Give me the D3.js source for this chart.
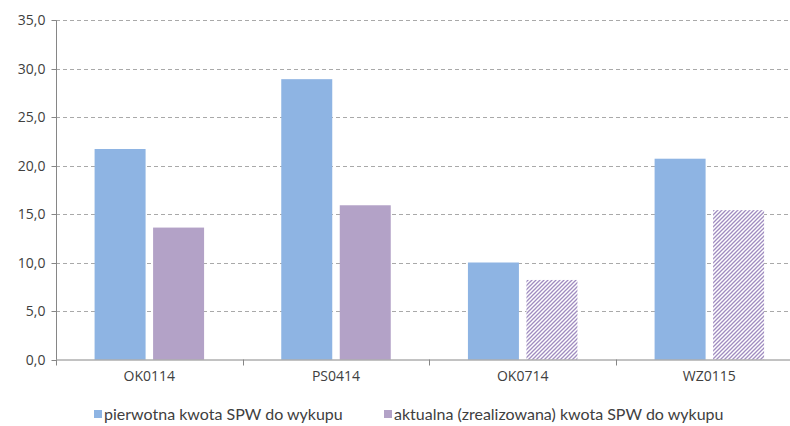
<!DOCTYPE html>
<html>
<head>
<meta charset="utf-8">
<script src="https://cdn.jsdelivr.net/npm/d3@7/dist/d3.min.js"></script>
<style>
  html, body { margin: 0; padding: 0; background: #fff; }
  svg { display: block; }
  text { font-family: "Open Sans", "Noto Sans", sans-serif; fill: #404040; }
  .legend text { font-family: Lato, "Open Sans", sans-serif; }
</style>
</head>
<body>
<svg id="chart" width="790" height="426"></svg>
<script>
// Bond series and amounts (mld zł)
const categories = ["OK0114", "PS0414", "OK0714", "WZ0115"];
const seriesNames = ["pierwotna kwota SPW do wykupu", "aktualna (zrealizowana) kwota SPW do wykupu"];
const original = [21.7, 28.9, 10.0, 20.7];
const current = [13.6, 15.9, 8.2, 15.4];
// the last two "current" amounts are drawn hatched
const hatched = [false, false, true, true];
const yTicks = [0, 5, 10, 15, 20, 25, 30, 35];

const colors = ["#8eb4e3", "#b3a2c7"];

const svg = d3.select("#chart");
const plotLeft = 56, plotTop = 20, plotBottom = 359.5;
const bandW = 186.67;
const plotRight = plotLeft + bandW * categories.length;

const defs = svg.append("defs");
const pat = defs.append("pattern")
  .attr("id", "hatch")
  .attr("patternUnits", "userSpaceOnUse")
  .attr("width", 4).attr("height", 4);
pat.append("rect").attr("width", 4).attr("height", 4).attr("fill", "#fff");
pat.append("path")
  .attr("d", "M-1,1 l2,-2 M0,4 l4,-4 M3,5 l2,-2")
  .attr("stroke", "#a08cc0").attr("stroke-width", 1.3);

const x = d3.scaleBand().domain(categories).range([plotLeft, plotRight]).paddingInner(0).paddingOuter(0);
const y = d3.scaleLinear().domain([0, 35]).range([plotBottom, plotTop]);

// gridlines
svg.append("g").selectAll("line").data(yTicks.filter(d => d > 0)).join("line")
  .attr("x1", plotLeft).attr("x2", 790)
  .attr("y1", d => Math.round(y(d)) + 0.5).attr("y2", d => Math.round(y(d)) + 0.5)
  .attr("stroke", "#a9a9a9").attr("stroke-dasharray", "4,3");

// y axis
const yAxis = d3.axisLeft(y).tickValues(yTicks).tickSize(5).tickPadding(6)
  .tickFormat(d => d3.format(".1f")(d).replace(".", ","));
const gy = svg.append("g").attr("transform", `translate(${plotLeft + 0.5},0)`).call(yAxis);
gy.select(".domain").attr("stroke", "#868686").attr("d", `M0,${Math.round(plotTop)+0.5}V${plotBottom}`);
gy.selectAll(".tick line").attr("stroke", "#868686");
gy.selectAll(".tick").attr("transform", d => `translate(0,${Math.round(y(d)) + 0.5})`);
gy.selectAll("text").attr("font-size", 14).attr("fill", "#404040")
  .style("font-family", "'Open Sans', sans-serif");

// bars
const barW = 51, gap = 7.5;
const g = svg.append("g");
categories.forEach((c, i) => {
  const cx = x(c) + x.bandwidth() / 2;
  const clusterLeft = cx - (barW * 2 + gap) / 2;
  g.append("rect")
    .attr("x", clusterLeft).attr("width", barW)
    .attr("y", y(original[i])).attr("height", y(0) - y(original[i]))
    .attr("fill", colors[0]);
  g.append("rect")
    .attr("x", clusterLeft + barW + gap).attr("width", barW)
    .attr("y", y(current[i])).attr("height", y(0) - y(current[i]))
    .attr("fill", hatched[i] ? "url(#hatch)" : colors[1]);
});

// x axis
const xAxis = d3.axisBottom(x).tickSize(0).tickPadding(12);
const gx = svg.append("g").attr("transform", `translate(0,${plotBottom})`).call(xAxis);
gx.select(".domain").attr("stroke", "#868686").attr("d", `M${plotLeft},0.5H${plotRight}`);
gx.selectAll("text").attr("font-size", 14).attr("fill", "#404040")
  .style("font-family", "'Open Sans', sans-serif");
// category separator ticks
svg.append("g").selectAll("line").data(d3.range(categories.length + 1)).join("line")
  .attr("x1", i => Math.round(plotLeft + i * bandW) + 0.5).attr("x2", i => Math.round(plotLeft + i * bandW) + 0.5)
  .attr("y1", plotBottom).attr("y2", plotBottom + 6)
  .attr("stroke", "#868686");

// legend
const legendX = [94, 384];
const lg = svg.append("g").attr("class", "legend");
seriesNames.forEach((name, i) => {
  lg.append("rect").attr("x", legendX[i]).attr("y", 410).attr("width", 8).attr("height", 8)
    .attr("fill", colors[i]);
  lg.append("text").attr("x", legendX[i] + 10).attr("y", 419.5)
    .attr("font-size", 16).text(name);
});
</script>
</body>
</html>
